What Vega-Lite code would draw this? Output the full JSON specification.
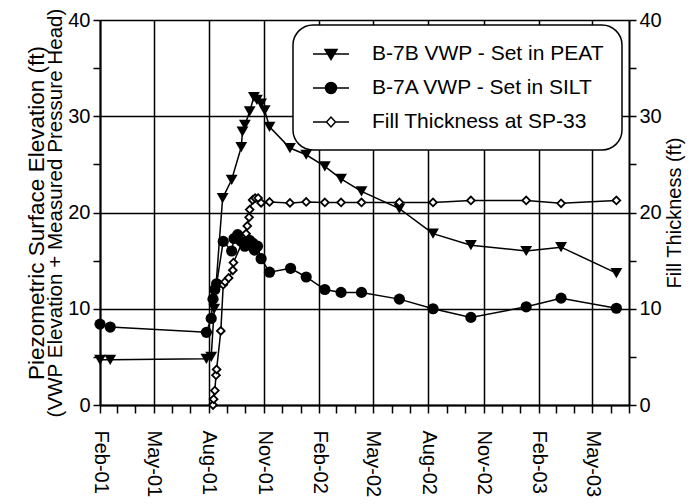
{
  "$schema": "https://vega.github.io/schema/vega-lite/v6.json",
  "width": 529,
  "height": 385,
  "autosize": "none",
  "padding": {"left": 100, "top": 20, "right": 69, "bottom": 99},
  "background": "white",
  "config": {
    "view": {"stroke": null},
    "font": "Liberation Sans",
    "axis": {
      "labelFont": "Liberation Sans",
      "titleFont": "Liberation Sans",
      "labelColor": "black",
      "titleColor": "black",
      "domainColor": "black",
      "domainWidth": 2,
      "tickColor": "black",
      "tickWidth": 1.5,
      "titleFontWeight": "normal",
      "labelFontSize": 20,
      "titleFontSize": 20,
      "titleLimit": 600
    }
  },
  "datasets": {
    "d": [
      {"date": "2001-02-01", "series": "B-7B VWP - Set in PEAT", "value": 4.7},
      {"date": "2001-02-18", "series": "B-7B VWP - Set in PEAT", "value": 4.7},
      {"date": "2001-07-28", "series": "B-7B VWP - Set in PEAT", "value": 4.8},
      {"date": "2001-08-05", "series": "B-7B VWP - Set in PEAT", "value": 5.0},
      {"date": "2001-08-10", "series": "B-7B VWP - Set in PEAT", "value": 10.0},
      {"date": "2001-08-24", "series": "B-7B VWP - Set in PEAT", "value": 21.5},
      {"date": "2001-09-08", "series": "B-7B VWP - Set in PEAT", "value": 23.4},
      {"date": "2001-09-24", "series": "B-7B VWP - Set in PEAT", "value": 26.8},
      {"date": "2001-09-26", "series": "B-7B VWP - Set in PEAT", "value": 28.4},
      {"date": "2001-09-30", "series": "B-7B VWP - Set in PEAT", "value": 29.1},
      {"date": "2001-10-08", "series": "B-7B VWP - Set in PEAT", "value": 30.5},
      {"date": "2001-10-15", "series": "B-7B VWP - Set in PEAT", "value": 32.0},
      {"date": "2001-10-20", "series": "B-7B VWP - Set in PEAT", "value": 31.7},
      {"date": "2001-10-27", "series": "B-7B VWP - Set in PEAT", "value": 31.3},
      {"date": "2001-11-02", "series": "B-7B VWP - Set in PEAT", "value": 30.6},
      {"date": "2001-11-10", "series": "B-7B VWP - Set in PEAT", "value": 28.9},
      {"date": "2001-12-14", "series": "B-7B VWP - Set in PEAT", "value": 26.7},
      {"date": "2002-01-10", "series": "B-7B VWP - Set in PEAT", "value": 26.0},
      {"date": "2002-02-10", "series": "B-7B VWP - Set in PEAT", "value": 24.8},
      {"date": "2002-03-09", "series": "B-7B VWP - Set in PEAT", "value": 23.5},
      {"date": "2002-04-12", "series": "B-7B VWP - Set in PEAT", "value": 22.2},
      {"date": "2002-06-14", "series": "B-7B VWP - Set in PEAT", "value": 20.4},
      {"date": "2002-08-09", "series": "B-7B VWP - Set in PEAT", "value": 17.8},
      {"date": "2002-10-11", "series": "B-7B VWP - Set in PEAT", "value": 16.6},
      {"date": "2003-01-11", "series": "B-7B VWP - Set in PEAT", "value": 16.0},
      {"date": "2003-03-10", "series": "B-7B VWP - Set in PEAT", "value": 16.4},
      {"date": "2003-06-10", "series": "B-7B VWP - Set in PEAT", "value": 13.7},
      {"date": "2001-02-01", "series": "B-7A VWP - Set in SILT", "value": 8.4},
      {"date": "2001-02-18", "series": "B-7A VWP - Set in SILT", "value": 8.1},
      {"date": "2001-07-28", "series": "B-7A VWP - Set in SILT", "value": 7.55},
      {"date": "2001-08-05", "series": "B-7A VWP - Set in SILT", "value": 9.0},
      {"date": "2001-08-08", "series": "B-7A VWP - Set in SILT", "value": 11.0},
      {"date": "2001-08-11", "series": "B-7A VWP - Set in SILT", "value": 12.0},
      {"date": "2001-08-14", "series": "B-7A VWP - Set in SILT", "value": 12.6},
      {"date": "2001-08-25", "series": "B-7A VWP - Set in SILT", "value": 17.0},
      {"date": "2001-09-08", "series": "B-7A VWP - Set in SILT", "value": 16.0},
      {"date": "2001-09-12", "series": "B-7A VWP - Set in SILT", "value": 17.3},
      {"date": "2001-09-18", "series": "B-7A VWP - Set in SILT", "value": 17.7},
      {"date": "2001-09-24", "series": "B-7A VWP - Set in SILT", "value": 17.0},
      {"date": "2001-09-30", "series": "B-7A VWP - Set in SILT", "value": 16.5},
      {"date": "2001-10-08", "series": "B-7A VWP - Set in SILT", "value": 17.1},
      {"date": "2001-10-13", "series": "B-7A VWP - Set in SILT", "value": 16.8},
      {"date": "2001-10-16", "series": "B-7A VWP - Set in SILT", "value": 16.1},
      {"date": "2001-10-21", "series": "B-7A VWP - Set in SILT", "value": 16.5},
      {"date": "2001-10-27", "series": "B-7A VWP - Set in SILT", "value": 15.2},
      {"date": "2001-11-10", "series": "B-7A VWP - Set in SILT", "value": 13.8},
      {"date": "2001-12-15", "series": "B-7A VWP - Set in SILT", "value": 14.2},
      {"date": "2002-01-10", "series": "B-7A VWP - Set in SILT", "value": 13.3},
      {"date": "2002-02-10", "series": "B-7A VWP - Set in SILT", "value": 12.0},
      {"date": "2002-03-09", "series": "B-7A VWP - Set in SILT", "value": 11.7},
      {"date": "2002-04-12", "series": "B-7A VWP - Set in SILT", "value": 11.7},
      {"date": "2002-06-14", "series": "B-7A VWP - Set in SILT", "value": 11.0},
      {"date": "2002-08-09", "series": "B-7A VWP - Set in SILT", "value": 10.0},
      {"date": "2002-10-11", "series": "B-7A VWP - Set in SILT", "value": 9.1},
      {"date": "2003-01-11", "series": "B-7A VWP - Set in SILT", "value": 10.2},
      {"date": "2003-03-10", "series": "B-7A VWP - Set in SILT", "value": 11.1},
      {"date": "2003-06-10", "series": "B-7A VWP - Set in SILT", "value": 10.05},
      {"date": "2001-08-08", "series": "Fill Thickness at SP-33", "value": 0.0},
      {"date": "2001-08-09", "series": "Fill Thickness at SP-33", "value": 0.6},
      {"date": "2001-08-11", "series": "Fill Thickness at SP-33", "value": 1.5},
      {"date": "2001-08-13", "series": "Fill Thickness at SP-33", "value": 3.1},
      {"date": "2001-08-14", "series": "Fill Thickness at SP-33", "value": 3.7},
      {"date": "2001-08-21", "series": "Fill Thickness at SP-33", "value": 7.7},
      {"date": "2001-08-25", "series": "Fill Thickness at SP-33", "value": 12.5},
      {"date": "2001-08-28", "series": "Fill Thickness at SP-33", "value": 12.8},
      {"date": "2001-09-03", "series": "Fill Thickness at SP-33", "value": 13.2},
      {"date": "2001-09-10", "series": "Fill Thickness at SP-33", "value": 14.0},
      {"date": "2001-09-11", "series": "Fill Thickness at SP-33", "value": 14.8},
      {"date": "2001-10-02", "series": "Fill Thickness at SP-33", "value": 17.8},
      {"date": "2001-10-04", "series": "Fill Thickness at SP-33", "value": 18.6},
      {"date": "2001-10-07", "series": "Fill Thickness at SP-33", "value": 19.5},
      {"date": "2001-10-08", "series": "Fill Thickness at SP-33", "value": 20.3},
      {"date": "2001-10-13", "series": "Fill Thickness at SP-33", "value": 21.3},
      {"date": "2001-10-17", "series": "Fill Thickness at SP-33", "value": 21.5},
      {"date": "2001-10-22", "series": "Fill Thickness at SP-33", "value": 21.5},
      {"date": "2001-10-27", "series": "Fill Thickness at SP-33", "value": 21.0},
      {"date": "2001-11-10", "series": "Fill Thickness at SP-33", "value": 21.1},
      {"date": "2001-12-14", "series": "Fill Thickness at SP-33", "value": 21.0},
      {"date": "2002-01-10", "series": "Fill Thickness at SP-33", "value": 21.1},
      {"date": "2002-02-10", "series": "Fill Thickness at SP-33", "value": 21.05},
      {"date": "2002-03-09", "series": "Fill Thickness at SP-33", "value": 21.05},
      {"date": "2002-04-12", "series": "Fill Thickness at SP-33", "value": 21.05},
      {"date": "2002-06-14", "series": "Fill Thickness at SP-33", "value": 21.05},
      {"date": "2002-08-09", "series": "Fill Thickness at SP-33", "value": 21.05},
      {"date": "2002-10-11", "series": "Fill Thickness at SP-33", "value": 21.25},
      {"date": "2003-01-11", "series": "Fill Thickness at SP-33", "value": 21.25},
      {"date": "2003-03-10", "series": "Fill Thickness at SP-33", "value": 20.95},
      {"date": "2003-06-10", "series": "Fill Thickness at SP-33", "value": 21.25}
    ]
  },
  "data": {"name": "d"},
  "encoding": {
    "x": {
      "field": "date",
      "type": "temporal",
      "scale": {
        "type": "utc",
        "domain": [
          {"year": 2001, "month": 2, "date": 1, "utc": true},
          {"year": 2003, "month": 7, "date": 1, "utc": true}
        ]
      },
      "axis": {
        "title": null,
        "tickCount": {"interval": "month", "step": 1},
        "labelExpr": "utcmonth(datum.value) % 3 === 1 ? utcFormat(datum.value, '%b-%y') : ''",
        "labelAngle": 90,
        "labelPadding": 17,
        "labelOverlap": false,
        "labelFlush": false,
        "labelBound": false,
        "tickSize": 8,
        "grid": true,
        "gridColor": "black",
        "gridWidth": 1.5,
        "gridOpacity": {"condition": {"test": "utcmonth(datum.value) % 3 === 1", "value": 1}, "value": 0}
      }
    }
  },
  "layer": [
    {
      "transform": [{"filter": "datum.series !== 'Fill Thickness at SP-33'"}],
      "encoding": {
        "y": {
          "field": "value",
          "type": "quantitative",
          "scale": {"domain": [0, 40], "nice": false},
          "axis": {
            "values": [0, 5, 10, 15, 20, 25, 30, 35, 40],
            "labelExpr": "datum.value % 10 === 0 ? datum.label : ''",
            "tickSize": 7,
            "labelPadding": 3,
            "grid": true,
            "gridColor": "black",
            "gridWidth": 1.5,
            "gridOpacity": {"condition": {"test": "datum.value % 10 === 0", "value": 1}, "value": 0},
            "title": "(VWP Elevation + Measured Pressure Head)",
            "titleFontSize": 20.6,
            "titlePadding": 2
          }
        }
      },
      "layer": [
        {
          "mark": {"type": "line", "color": "black", "strokeWidth": 1.5},
          "encoding": {"detail": {"field": "series", "type": "nominal"}}
        },
        {
          "transform": [{"filter": "datum.series === 'B-7B VWP - Set in PEAT'"}],
          "mark": {"type": "point", "shape": "triangle-down", "filled": true, "color": "black", "opacity": 1, "size": 140}
        },
        {
          "transform": [{"filter": "datum.series === 'B-7A VWP - Set in SILT'"}],
          "mark": {"type": "point", "shape": "circle", "filled": true, "color": "black", "opacity": 1, "size": 125}
        }
      ]
    },
    {
      "transform": [{"filter": "datum.series === 'Fill Thickness at SP-33'"}],
      "encoding": {
        "y": {
          "field": "value",
          "type": "quantitative",
          "scale": {"domain": [0, 40], "nice": false},
          "axis": {
            "orient": "right",
            "values": [0, 5, 10, 15, 20, 25, 30, 35, 40],
            "labelExpr": "datum.value % 10 === 0 ? datum.label : ''",
            "tickSize": 7,
            "labelPadding": 3,
            "grid": false,
            "title": "Fill Thickness (ft)",
            "titleAngle": 270,
            "titleBaseline": "top",
            "titlePadding": 3
          }
        }
      },
      "layer": [
        {
          "mark": {"type": "line", "color": "black", "strokeWidth": 1.5},
          "encoding": {}
        },
        {
          "mark": {"type": "point", "shape": "diamond", "filled": true, "fill": "white", "stroke": "black", "strokeWidth": 1.8, "opacity": 1, "size": 60}
        }
      ]
    },
    {
      "mark": {"type": "point", "opacity": 0, "stroke": "black", "strokeWidth": 1.5},
      "encoding": {
        "y": {
          "field": "value",
          "type": "quantitative",
          "scale": {"domain": [0, 40], "nice": false},
          "axis": {
            "orient": "left",
            "offset": 52,
            "labels": false,
            "ticks": false,
            "domain": false,
            "grid": false,
            "title": "Piezometric Surface Elevation (ft)",
            "titleFontSize": 22.5,
            "titlePadding": 0
          }
        },
        "shape": {
          "field": "series",
          "type": "nominal",
          "scale": {
            "domain": ["B-7B VWP - Set in PEAT", "B-7A VWP - Set in SILT", "Fill Thickness at SP-33"],
            "range": [
              "M-1.8,0H1.8M-0.6,-0.45H0.6L0,0.55Z",
              "M-1.8,0H1.8M-0.55,0A0.55,0.55 0 1,0 0.55,0A0.55,0.55 0 1,0 -0.55,0Z",
              "M-1.8,0H-0.45M0.45,0H1.8M-0.45,0L0,-0.5L0.45,0L0,0.5Z"
            ]
          },
          "legend": {
            "title": null,
            "orient": "none",
            "legendX": 193,
            "legendY": 5,
            "strokeColor": "black",
            "fillColor": "white",
            "cornerRadius": 20,
            "padding": 18,
            "symbolSize": 400,
            "symbolStrokeWidth": 1.5,
            "symbolStrokeColor": "black",
            "symbolOpacity": 1,
            "symbolOffset": 9,
            "labelOffset": 30,
            "labelFontSize": 21,
            "labelFont": "Liberation Sans",
            "labelColor": "black",
            "labelLimit": 0,
            "rowPadding": 13,
            "encode": {"legend": {"update": {"strokeWidth": {"value": 1.5}}}}
          }
        },
        "fill": {
          "field": "series",
          "type": "nominal",
          "scale": {
            "domain": ["B-7B VWP - Set in PEAT", "B-7A VWP - Set in SILT", "Fill Thickness at SP-33"],
            "range": ["black", "black", "white"]
          },
          "legend": {
            "title": null,
            "orient": "none",
            "legendX": 193,
            "legendY": 5,
            "strokeColor": "black",
            "fillColor": "white",
            "cornerRadius": 20,
            "padding": 18,
            "symbolSize": 400,
            "symbolStrokeWidth": 1.5,
            "symbolStrokeColor": "black",
            "symbolOpacity": 1,
            "symbolOffset": 9,
            "labelOffset": 30,
            "labelFontSize": 21,
            "labelFont": "Liberation Sans",
            "labelColor": "black",
            "labelLimit": 0,
            "rowPadding": 13,
            "encode": {"legend": {"update": {"strokeWidth": {"value": 1.5}}}}
          }
        }
      }
    }
  ],
  "resolve": {"scale": {"y": "independent"}}
}
